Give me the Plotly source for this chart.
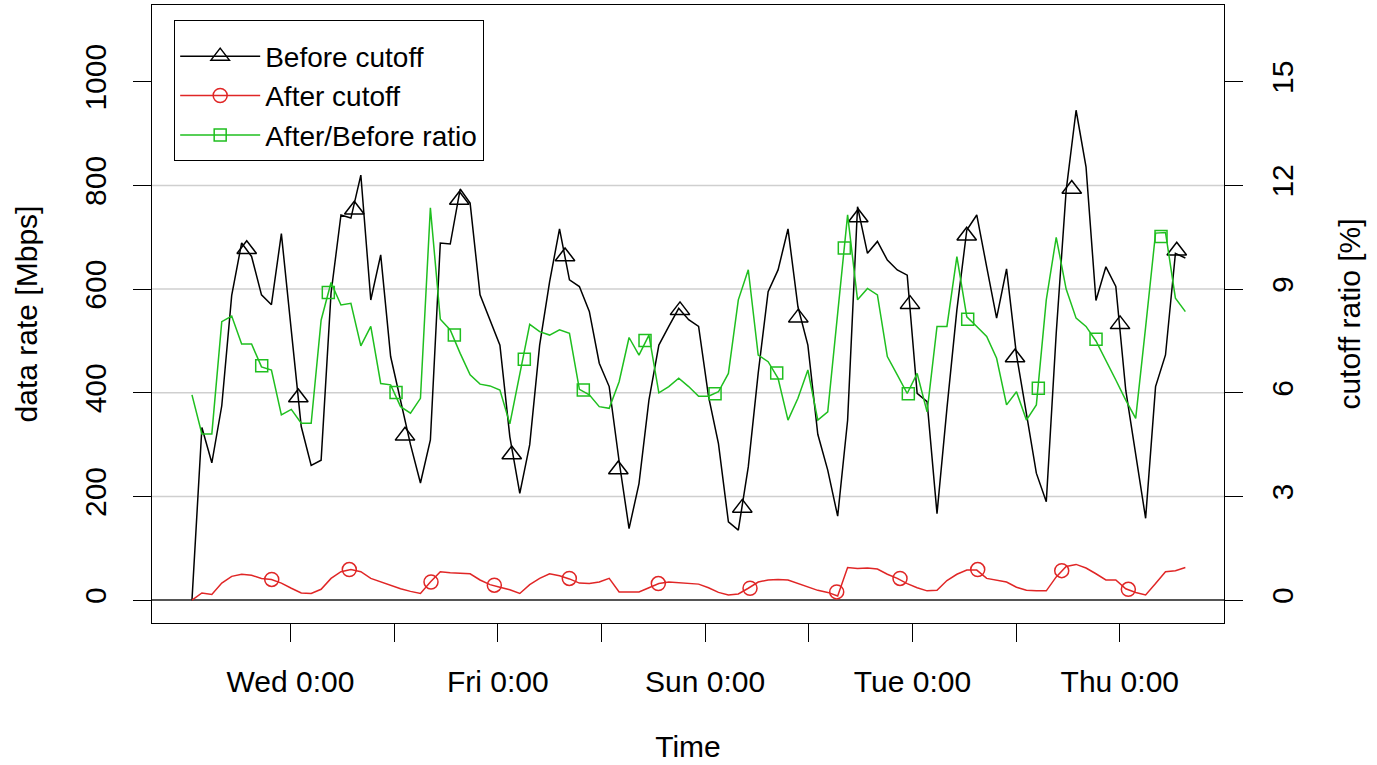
import pandas as pd
import plotly.graph_objects as go

# ---------------- data ----------------
before_cutoff = [0, 333, 265, 375, 588, 689, 663, 589, 570, 707,
                 520, 335, 260, 270, 592, 743, 737, 820, 579, 666,
                 470, 385, 300, 226, 309, 689, 687, 793, 766, 589,
                 542, 492, 315, 206, 300, 492, 614, 716, 618, 605,
                 557, 457, 412, 268, 138, 225, 386, 492, 528, 563,
                 541, 528, 393, 302, 151, 135, 257, 438, 595, 637,
                 716, 566, 492, 320, 251, 162, 347, 759, 669, 692,
                 656, 637, 627, 399, 383, 167, 370, 560, 714, 743,
                 643, 544, 639, 473, 360, 245, 190, 515, 790, 945,
                 836, 578, 643, 605, 405, 277, 158, 412, 473, 669, 660]

after_cutoff = [0, 14, 11, 33, 46, 50, 48, 42, 40, 33,
                23, 14, 13, 21, 42, 55, 59, 55, 42, 35,
                28, 22, 17, 13, 35, 55, 53, 52, 51, 39,
                30, 25, 20, 13, 30, 42, 51, 47, 41, 33,
                32, 35, 42, 16, 16, 16, 24, 32, 35, 34,
                32, 31, 24, 15, 10, 12, 23, 35, 39, 40,
                39, 32, 25, 19, 15, 8, 63, 61, 62, 60,
                50, 42, 32, 24, 18, 19, 38, 50, 58, 58,
                42, 38, 35, 25, 19, 18, 18, 45, 65, 69,
                62, 51, 39, 39, 22, 15, 10, 32, 55, 57, 63]

ratio_pct = [5.94, 4.81, 4.81, 8.06, 8.22, 7.41, 7.41, 6.75, 6.66, 5.36,
             5.52, 5.12, 5.12, 8.1, 9.19, 8.54, 8.59, 7.36, 7.92, 6.27,
             6.23, 5.6, 5.41, 5.84, 11.35, 8.13, 7.82, 7.14, 6.52, 6.25,
             6.2, 6.08, 5.1, 6.5, 7.98, 7.77, 7.67, 7.82, 7.72, 6.1,
             5.94, 5.6, 5.55, 6.32, 7.6, 7.09, 7.67, 6.0, 6.18, 6.42,
             6.18, 5.9, 5.9, 6.03, 6.56, 8.69, 9.56, 7.09, 6.9, 6.42,
             5.21, 5.84, 6.66, 5.21, 5.45, 8.3, 11.15, 8.69, 9.02, 8.83,
             7.05, 6.52, 5.98, 6.56, 5.45, 7.92, 7.92, 9.94, 8.2, 7.92,
             7.63, 7.0, 5.65, 6.03, 5.21, 5.65, 8.69, 10.5, 9.0, 8.16,
             7.92, 7.5, 6.95, 6.37, 5.79, 5.26, 7.9, 10.62, 10.64, 8.74, 8.35]

# marker positions (hours after Tue 0:00) and values
tri_hours = [13.86, 25.81, 38.77, 50.51, 63.08, 75.22, 87.56, 99.9, 114.18,
             128.6, 141.57, 155.46, 167.43, 180.56, 191.75, 204.88, 216.06, 229.19]
tri_values = [677, 391, 753, 317, 772, 281, 663, 252, 559,
              178, 545, 738, 571, 703, 468, 793, 532, 674]
circ_hours = [19.65, 37.61, 56.53, 71.19, 88.55, 109.16, 130.39, 150.46,
              165.12, 183.11, 202.56, 217.98]
circ_values = [40, 59, 35, 29, 42, 32, 23, 16, 42, 59, 57, 21]
sq_hours = [17.33, 32.75, 48.43, 61.93, 78.13, 91.79, 106.08, 122.29, 136.57,
            152.22, 167.04, 180.79, 197.14, 210.5, 225.55]
sq_values = [6.78, 8.90, 6.01, 7.67, 6.97, 6.08, 7.51, 5.97, 6.57,
             10.19, 5.97, 8.13, 6.13, 7.55, 10.52]

day_labels = ["Wed 0:00", "", "Fri 0:00", "", "Sun 0:00", "", "Tue 0:00", "", "Thu 0:00"]
left_ticks = [0, 200, 400, 600, 800, 1000]
right_ticks = [0, 3, 6, 9, 12, 15]
grid_levels = [200, 400, 600, 800]

# ---------------- time base ----------------
base = pd.Timestamp("2011-03-01 00:00")          # a Tuesday
times = pd.date_range(base + pd.Timedelta(minutes=71), periods=len(before_cutoff), freq="138min")
tri_t = base + pd.to_timedelta(tri_hours, unit="h")
circ_t = base + pd.to_timedelta(circ_hours, unit="h")
sq_t = base + pd.to_timedelta(sq_hours, unit="h")
day_ticks = pd.date_range(base + pd.Timedelta(days=1), periods=len(day_labels), freq="D")

BLACK = "#000000"
RED = "#e02626"
GREEN = "#1fbf1f"
FONT = "Liberation Sans, Arial, Helvetica, sans-serif"
FS = 30

fig = go.Figure()

# legend entries
fig.add_trace(go.Scatter(x=[None], y=[None], mode="lines+markers", name="Before cutoff",
                         line=dict(color=BLACK, width=1.5),
                         marker=dict(symbol="triangle-up-open", size=16, color=BLACK, line=dict(width=1.5))))
fig.add_trace(go.Scatter(x=[None], y=[None], mode="lines+markers", name="After cutoff",
                         line=dict(color=RED, width=1.5),
                         marker=dict(symbol="circle-open", size=14, color=RED, line=dict(width=1.5))))
fig.add_trace(go.Scatter(x=[None], y=[None], mode="lines+markers", name="After/Before ratio",
                         line=dict(color=GREEN, width=1.5),
                         marker=dict(symbol="square-open", size=12, color=GREEN, line=dict(width=1.5))))

# lines and markers
fig.add_trace(go.Scatter(x=times, y=before_cutoff, mode="lines", showlegend=False,
                         line=dict(color=BLACK, width=1.5)))
fig.add_trace(go.Scatter(x=times, y=after_cutoff, mode="lines", showlegend=False,
                         line=dict(color=RED, width=1.5)))
fig.add_trace(go.Scatter(x=tri_t, y=tri_values, mode="markers", showlegend=False,
                         marker=dict(symbol="triangle-up-open", size=17, color=BLACK, line=dict(width=1.5))))
fig.add_trace(go.Scatter(x=circ_t, y=circ_values, mode="markers", showlegend=False,
                         marker=dict(symbol="circle-open", size=14, color=RED, line=dict(width=1.5))))
fig.add_trace(go.Scatter(x=times, y=ratio_pct, yaxis="y2", mode="lines", showlegend=False,
                         line=dict(color=GREEN, width=1.5)))
fig.add_trace(go.Scatter(x=sq_t, y=sq_values, yaxis="y2", mode="markers", showlegend=False,
                         marker=dict(symbol="square-open", size=12, color=GREEN, line=dict(width=1.5))))

ymin, ymax = -44, 1148
scale = right_ticks[-1] / left_ticks[-1]

shapes = [dict(type="line", xref="paper", x0=0, x1=1, yref="y", y0=g, y1=g,
               line=dict(color="#cfcfcf", width=1.5), layer="below") for g in grid_levels]

fig.update_layout(
    width=1377, height=765,
    margin=dict(l=152, r=153, t=5, b=142),
    paper_bgcolor="white", plot_bgcolor="white",
    font=dict(family=FONT, size=FS, color="black"),
    showlegend=True,
    shapes=shapes,
    legend=dict(x=0.0205, y=0.976, xanchor="left", yanchor="top",
                bgcolor="white", bordercolor="black", borderwidth=1.2,
                font=dict(size=28), itemwidth=80, tracegroupgap=0,
                title=dict(text=" ", font=dict(size=8))),
    xaxis=dict(
        type="date",
        range=[base - pd.Timedelta(hours=8.07), base + pd.Timedelta(hours=240.13)],
        tickmode="array", tickvals=day_ticks, ticktext=day_labels,
        ticks="outside", ticklen=18, tickwidth=1.2, tickcolor="black",
        showline=True, mirror=True, linecolor="black", linewidth=1.2,
        showgrid=False, zeroline=False,
        ticklabelstandoff=14,
        title=dict(text="Time", standoff=38, font=dict(size=FS)),
    ),
    yaxis=dict(
        range=[ymin, ymax],
        tickmode="array", tickvals=left_ticks,
        tickangle=-90,
        ticks="outside", ticklen=18, tickwidth=1.2, tickcolor="black",
        showline=True, mirror=True, linecolor="black", linewidth=1.2,
        showgrid=False,
        zeroline=True, zerolinecolor="#555555", zerolinewidth=1.5,
        ticklabelstandoff=15,
        title=dict(text="data rate [Mbps]", standoff=32, font=dict(size=FS)),
    ),
    yaxis2=dict(
        overlaying="y", side="right",
        range=[ymin * scale, ymax * scale],
        tickmode="array", tickvals=right_ticks,
        tickangle=-90,
        ticks="outside", ticklen=18, tickwidth=1.2, tickcolor="black",
        showline=False, showgrid=False, zeroline=False,
        ticklabelstandoff=14,
        title=dict(text="cutoff ratio [%]", standoff=40, font=dict(size=FS)),
    ),
)

fig.write_html("out.html")
